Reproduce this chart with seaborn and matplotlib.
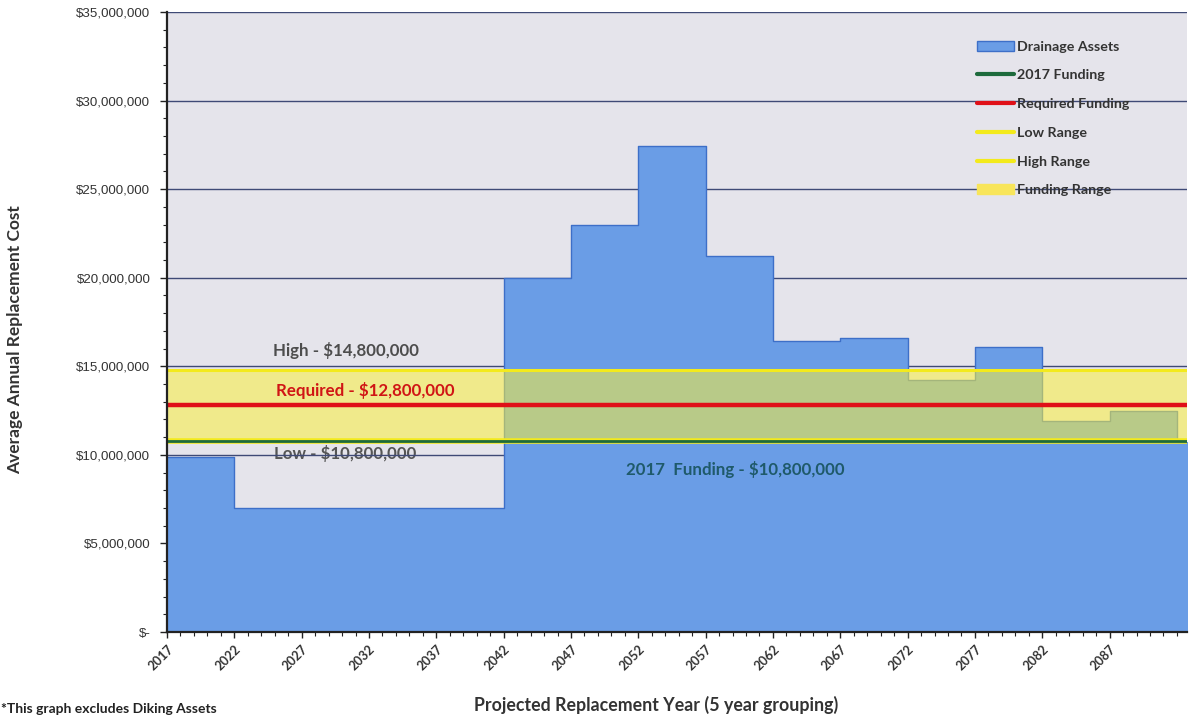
import matplotlib
matplotlib.use("Agg")
import matplotlib.pyplot as plt
import matplotlib.ticker as mticker
from matplotlib.patches import Patch
from matplotlib.lines import Line2D
import pandas as pd
import seaborn as sns

# Five-year replacement groupings and their average annual replacement cost
group_start = [2017, 2022, 2027, 2032, 2037, 2042, 2047, 2052,
               2057, 2062, 2067, 2072, 2077, 2082, 2087, 2092]
drainage_cost = [9_900_000, 7_000_000, 7_000_000, 7_000_000, 7_000_000,
                 20_000_000, 23_000_000, 27_450_000, 21_200_000, 16_400_000,
                 16_600_000, 14_200_000, 16_100_000, 11_900_000, 12_500_000,
                 10_700_000]

funding_2017 = 10_800_000
required_funding = 12_800_000
low_range = 10_800_000
high_range = 14_800_000

year_ticks = list(range(2017, 2088, 5))
cost_ticks = list(range(0, 35_000_001, 5_000_000))

BLUE = "#6a9de6"
BLUE_EDGE = "#3d6fc8"
YELLOW = "#faf03c"
RED = "#e01018"
GREEN = "#1d6a3c"
PLOT_BG = "#e5e4eb"
GRID = "#3f4a76"

sns.set_theme(style="white")
plt.rcParams["font.family"] = ["Lato", "DejaVu Sans"]

fig = plt.figure(figsize=(11.89, 7.17), dpi=100)
ax = fig.add_axes([0.14045, 0.1185, 0.8579, 0.8648])
ax.set_facecolor(PLOT_BG)

# Step area for drainage assets (last step carried to the right edge)
xs = group_start + [group_start[-1] + 5]
ys = drainage_cost + [drainage_cost[-1]]
steps = pd.DataFrame({"year": xs, "cost": ys})
ax.fill_between(steps["year"], steps["cost"], step="post",
                color=BLUE, linewidth=0, zorder=2)
sns.lineplot(data=steps, x="year", y="cost", drawstyle="steps-post",
             color=BLUE_EDGE, linewidth=1.0, ax=ax, zorder=2.2)

# Funding range band
ax.axhspan(low_range, high_range, color=YELLOW, alpha=0.55,
           linewidth=0, zorder=3)

x_span = [2017, 2097]
ref_lines = [
    (high_range, "#f3ea1c", 2.2),
    (low_range, "#f3ea1c", 4.0),
    (funding_2017, GREEN, 2.0),
    (required_funding, RED, 3.2),
]
for value, color, lw in ref_lines:
    sns.lineplot(x=x_span, y=[value, value], color=color, linewidth=lw,
                 ax=ax, zorder=4)

# Axes limits, ticks and grid
ax.set_xlim(2017, 2092.75)
ax.set_ylim(0, 35_000_000)
ax.set_yticks(cost_ticks)
ax.yaxis.set_minor_locator(mticker.MultipleLocator(1_000_000))
ax.set_xticks(year_ticks)
ax.xaxis.set_minor_locator(mticker.MultipleLocator(1))


def dollar(v, _pos):
    return "$-" if v == 0 else f"${v:,.0f}"


ax.yaxis.set_major_formatter(mticker.FuncFormatter(dollar))
for y in cost_ticks[1:]:
    ax.axhline(y, color=GRID, linewidth=1.0, zorder=1)

ax.tick_params(axis="y", which="major", direction="out", length=5, width=1,
               color="#222222", pad=7, left=True)
ax.tick_params(axis="y", which="minor", direction="out", length=3, width=0.8,
               color="#222222", left=True)
ax.tick_params(axis="x", which="major", direction="out", length=4, width=1,
               color="#222222", pad=4, bottom=True)
ax.tick_params(axis="x", which="minor", direction="out", length=3, width=0.8,
               color="#222222", bottom=True)

for lbl in ax.get_yticklabels():
    lbl.set_fontfamily(["Liberation Sans", "DejaVu Sans"])
    lbl.set_fontsize(9.6)
    lbl.set_color("#333333")
for lbl in ax.get_xticklabels():
    lbl.set_rotation(45)
    lbl.set_ha("right")
    lbl.set_va("top")
    lbl.set_rotation_mode("anchor")
    lbl.set_fontsize(9.2)
    lbl.set_fontweight("bold")
    lbl.set_color("#333333")

for side in ("top", "right"):
    ax.spines[side].set_visible(False)
for side in ("left", "bottom"):
    ax.spines[side].set_color("#222222")
    ax.spines[side].set_linewidth(1.6)
    ax.spines[side].set_zorder(6)

ax.set_xlabel("")
ax.set_ylabel("")

# Value labels for the funding levels
ax.text(2030.3, 15_870_000, "High - $14,800,000", ha="center", va="center",
        fontsize=12.2, fontweight="bold", color="#4d4d4d", zorder=5)
ax.text(2031.7, 13_660_000, "Required - $12,800,000", ha="center",
        va="center", fontsize=12.2, fontweight="bold", color="#d01515",
        zorder=5)
ax.text(2030.2, 10_050_000, "Low - $10,800,000", ha="center", va="center",
        fontsize=12.2, fontweight="bold", color="#555555", zorder=0.9)
ax.text(2059.2, 9_150_000, "2017  Funding - $10,800,000", ha="center",
        va="center", fontsize=12.2, fontweight="bold", color="#1f5a6a",
        zorder=5)

# Legend
handles = [
    Patch(facecolor=BLUE, edgecolor=BLUE_EDGE, linewidth=1),
    Line2D([], [], color=GREEN, linewidth=3),
    Line2D([], [], color=RED, linewidth=3),
    Line2D([], [], color="#f3ea1c", linewidth=3),
    Line2D([], [], color="#f3ea1c", linewidth=3),
    Patch(facecolor="#f8e55a", edgecolor="#f8e55a"),
]
labels = ["Drainage Assets", "2017 Funding", "Required Funding",
          "Low Range", "High Range", "Funding Range"]
leg = ax.legend(handles, labels, loc="upper left",
                bbox_to_anchor=(0.788, 0.963), frameon=False,
                fontsize=10.3, labelspacing=1.17, handlelength=2.6,
                handleheight=0.7, handletextpad=0.2, borderaxespad=0)
leg.set_zorder(7)
for t in leg.get_texts():
    t.set_color("#333333")
    t.set_fontweight("bold")

# Axis titles and footnote
fig.text(0.013, 0.526, "Average Annual Replacement Cost", rotation=90,
         ha="center", va="center", fontsize=12.5, fontweight="bold",
         color="#333333")
fig.text(0.552, 0.0165, "Projected Replacement Year (5 year grouping)",
         ha="center", va="center", fontsize=12.8, fontweight="bold",
         color="#333333")
fig.text(0.001, 0.011, "*This graph excludes Diking Assets", ha="left",
         va="center", fontsize=10, fontweight="bold", color="#222222")

fig.savefig("out.png", dpi=100)
